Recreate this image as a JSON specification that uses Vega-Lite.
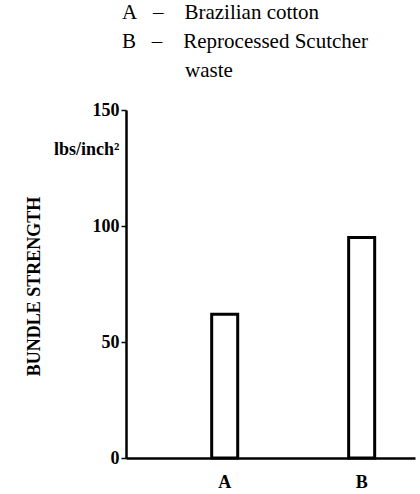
{
  "$schema": "https://vega.github.io/schema/vega-lite/v6.json",
  "autosize": {"type": "none"},
  "padding": {"left": 126, "top": 110, "right": 5, "bottom": 36},
  "width": 289,
  "height": 348,
  "background": "white",
  "config": {"view": {"stroke": null}},
  "title": {
    "text": ["A\u00a0\u00a0\u00a0–\u00a0\u00a0\u00a0\u00a0Brazilian cotton", "B\u00a0\u00a0\u00a0–\u00a0\u00a0\u00a0\u00a0Reprocessed Scutcher", "\u200b\u00a0\u00a0\u00a0\u00a0\u00a0\u00a0\u00a0\u00a0\u00a0\u00a0\u00a0\u00a0waste"],
    "anchor": "start",
    "frame": "group",
    "orient": "top",
    "align": "left",
    "dx": -4,
    "offset": 20,
    "font": "Liberation Serif",
    "fontSize": 21,
    "fontWeight": "normal",
    "color": "black",
    "lineHeight": 29
  },
  "data": {"values": [
    {"sample": "A", "strength": 62},
    {"sample": "B", "strength": 95}
  ]},
  "mark": {"type": "bar", "fill": "white", "stroke": "black", "strokeWidth": 3},
  "encoding": {
    "x": {
      "field": "sample",
      "type": "nominal",
      "scale": {"paddingInner": 0.81, "paddingOuter": 0.46, "align": 0.68},
      "axis": {
        "title": null,
        "labelAngle": 0,
        "ticks": false,
        "domainColor": "black",
        "domainWidth": 2.5,
        "labelFont": "Liberation Serif",
        "labelFontWeight": "bold",
        "labelFontSize": 18,
        "labelColor": "black",
        "labelPadding": 15
      }
    },
    "y": {
      "field": "strength",
      "type": "quantitative",
      "scale": {"domain": [0, 150], "nice": false},
      "axis": {
        "title": "BUNDLE STRENGTH",
        "titleFont": "Liberation Serif",
        "titleFontWeight": "bold",
        "titleFontSize": 18,
        "titleColor": "black",
        "titleY": 176,
        "titlePadding": 10,
        "grid": false,
        "values": [0, 50, 100, 133, 150],
        "labelExpr": "datum.value == 133 ? 'lbs/inch²' : datum.label",
        "labelFont": "Liberation Serif",
        "labelFontWeight": "bold",
        "labelFontSize": 18,
        "labelColor": "black",
        "labelPadding": 2,
        "tickSize": 5,
        "tickWidth": 1.5,
        "tickColor": "black",
        "tickOpacity": {"condition": {"test": "datum.value == 133", "value": 0}, "value": 1},
        "domainColor": "black",
        "domainWidth": 2.5
      }
    }
  }
}
